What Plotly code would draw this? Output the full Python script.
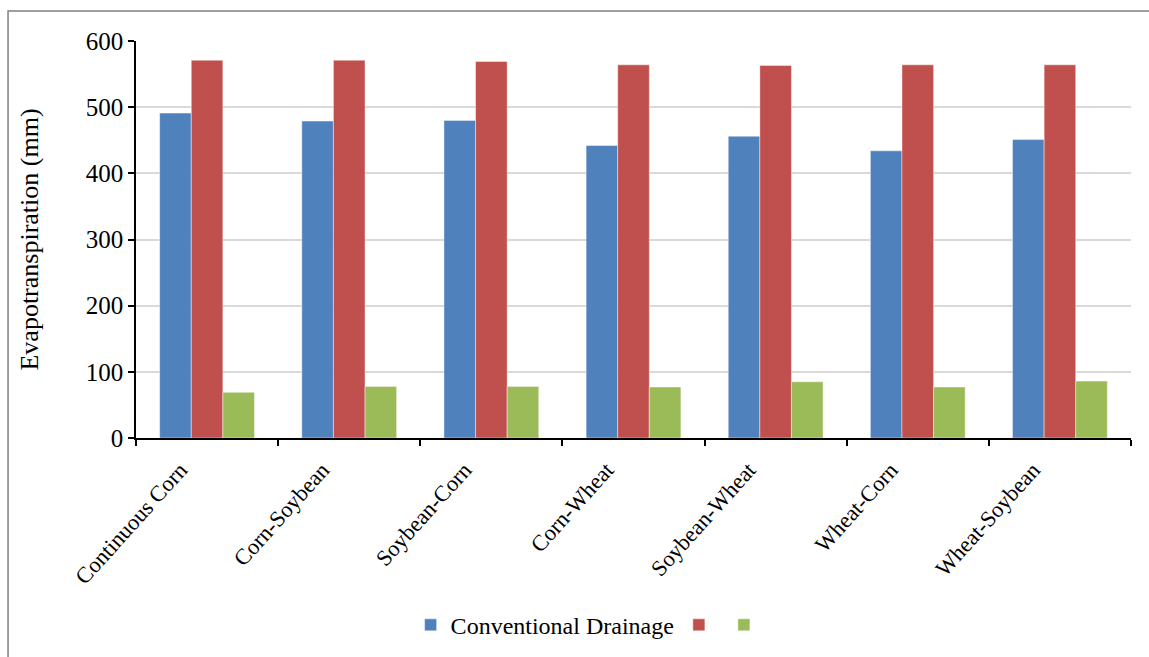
import plotly.graph_objects as go

rotations = ["Continuous Corn", "Corn-Soybean", "Soybean-Corn", "Corn-Wheat",
             "Soybean-Wheat", "Wheat-Corn", "Wheat-Soybean"]
conventional = [491, 479, 480, 442, 456, 434, 451]
series_two = [571, 571, 569, 564, 563, 564, 564]
series_three = [69, 78, 78, 77, 85, 77, 86]

y_ticks = [0, 100, 200, 300, 400, 500, 600]

serif = "Liberation Serif, Times New Roman, serif"
edge = dict(width=0.8, color="rgba(255,255,255,0.55)")

fig = go.Figure()
fig.add_trace(go.Bar(x=rotations, y=conventional, name="Conventional Drainage",
                     marker=dict(color="#4F81BD", line=edge)))
fig.add_trace(go.Bar(x=rotations, y=series_two, name="",
                     marker=dict(color="#C0504D", line=edge)))
fig.add_trace(go.Bar(x=rotations, y=series_three, name="",
                     marker=dict(color="#9BBB59", line=edge)))

fig.update_layout(
    width=1149, height=657,
    margin=dict(l=136, r=18, t=41, b=219, autoexpand=False),
    paper_bgcolor="white", plot_bgcolor="white",
    barmode="group", bargap=0.333, bargroupgap=0,
    font=dict(family=serif, size=22, color="black"),
    showlegend=True,
    legend=dict(orientation="h", x=0.276, xanchor="left", y=-0.415, yanchor="top",
                font=dict(family=serif, size=24), itemwidth=30,
                tracegroupgap=0, bgcolor="rgba(0,0,0,0)"),
    shapes=[dict(type="rect", xref="paper", yref="paper",
                 x0=-0.1286, x1=1.05, y0=-0.58, y1=1.0755,
                 line=dict(color="#7f7f7f", width=1.5), layer="below")],
)

fig.update_xaxes(
    automargin=False,
    showline=True, linecolor="black", linewidth=1.5,
    ticks="outside", ticklen=6, tickwidth=1.5, tickcolor="black",
    tickson="boundaries", tickangle=-48,
    ticklabelshift=-27, ticklabelstandoff=8,
    tickfont=dict(family=serif, size=22.5, color="black"),
    showgrid=False,
)
fig.update_yaxes(
    automargin=False,
    range=[0, 600], tickvals=y_ticks,
    showline=True, linecolor="black", linewidth=1.5,
    ticks="outside", ticklen=6, tickwidth=1.5, tickcolor="black",
    showgrid=True, gridcolor="#d9d9d9", gridwidth=1.5,
    tickfont=dict(family=serif, size=25, color="black"),
    title=dict(text="Evapotranspiration (mm)", font=dict(family=serif, size=26), standoff=40),
    zeroline=False,
)

fig.write_html("out.html")
